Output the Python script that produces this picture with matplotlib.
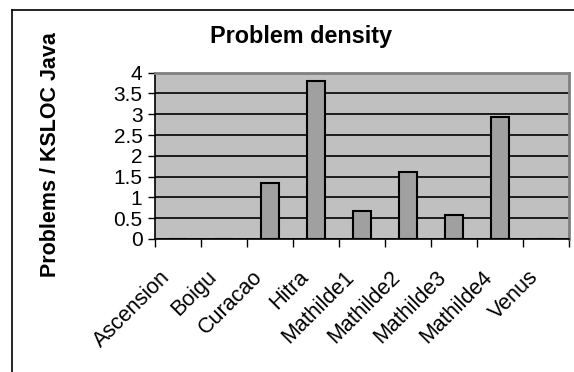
import matplotlib
matplotlib.use("Agg")
import matplotlib.pyplot as plt
from matplotlib.lines import Line2D
from matplotlib.transforms import ScaledTranslation

categories = ["Ascension", "Boigu", "Curacao", "Hitra", "Mathilde1",
              "Mathilde2", "Mathilde3", "Mathilde4", "Venus"]
density = [0, 0, 1.35, 3.80, 0.68, 1.60, 0.58, 2.94, 0]
yticks = [0, 0.5, 1, 1.5, 2, 2.5, 3, 3.5, 4]
ytick_labels = ["0", "0.5", "1", "1.5", "2", "2.5", "3", "3.5", "4"]

plt.rcParams['font.family'] = ['Liberation Sans', 'DejaVu Sans']

W, H = 574, 372
fig = plt.figure(figsize=(W / 100, H / 100), dpi=100)
fig.patch.set_facecolor("white")

ax = fig.add_axes([155 / W, 1 - 239 / H, (569 - 155) / W, (239 - 72.7) / H])
ax.set_facecolor("#C0C0C0")

x = list(range(len(categories)))
ax.bar(x, density, width=0.4, color="#A0A0A0", edgecolor="black",
       linewidth=1.5, zorder=3)

ax.set_xlim(-0.5, len(categories) - 0.5)
ax.set_ylim(0, 4)
ax.set_yticks(yticks)
ax.set_yticklabels(ytick_labels, fontsize=15)
ax.yaxis.grid(True, color="black", linewidth=1.2, zorder=1)
ax.set_axisbelow(True)

ax.set_xticks([i - 0.5 for i in range(len(categories) + 1)])
ax.set_xticklabels([])
ax.set_xticks(x, minor=True)
ax.set_xticklabels(categories, minor=True, rotation=45, ha="right",
                   rotation_mode="anchor", fontsize=15.5)
ax.tick_params(axis="x", which="minor", length=0, pad=12)
ax.tick_params(axis="x", which="major", length=6, width=1, color="black",
               direction="out")
ax.tick_params(axis="y", length=5, width=1, direction="out", pad=4)

offset = ScaledTranslation(-18 / 100, -11 / 100, fig.dpi_scale_trans)
for lbl in ax.get_xticklabels(minor=True):
    lbl.set_transform(lbl.get_transform() + offset)

for s in ["left", "bottom"]:
    ax.spines[s].set_color("black")
    ax.spines[s].set_linewidth(1.2)
for s in ["top", "right"]:
    ax.spines[s].set_color("#808080")
    ax.spines[s].set_linewidth(2)

fig.text(301 / W, 1 - 42.7 / H, "Problem density", ha="center", va="baseline",
         fontsize=16.8, fontweight="bold")
fig.text(51 / W, 1 - 155 / H, "Problems / KSLOC Java", ha="center",
         va="center", rotation=90, fontsize=15.5, fontweight="bold")

fig.add_artist(Line2D([12 / W, 12 / W], [0, 1 - 9.5 / H],
                      transform=fig.transFigure, color="black", linewidth=1.2))
fig.add_artist(Line2D([12 / W, 1], [1 - 9.5 / H, 1 - 9.5 / H],
                      transform=fig.transFigure, color="black", linewidth=1.2))

fig.savefig("out.png", dpi=100)
